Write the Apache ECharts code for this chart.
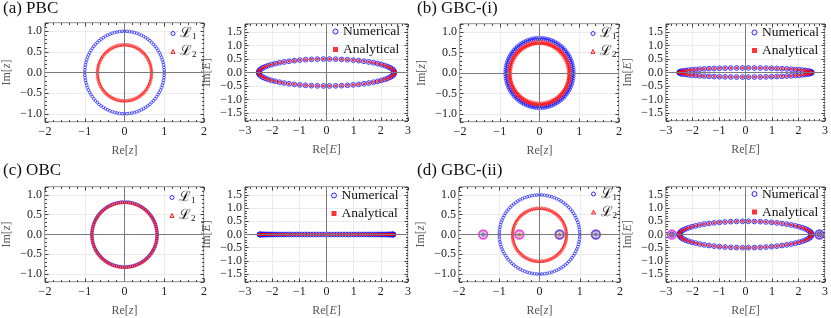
<!DOCTYPE html>
<html><head><meta charset="utf-8">
<script src="https://cdn.jsdelivr.net/npm/echarts@6/dist/echarts.min.js"></script>
<style>html,body{margin:0;padding:0;background:#fff}#c{width:831px;height:318px}</style>
</head><body><div id="c"></div>
<script>
// ---------------- values ----------------
const panelTitles = ['(a) PBC', '(b) GBC-(i)', '(c) OBC', '(d) GBC-(ii)'];
// tick labels
const zTicksX = [-2, -1, 0, 1, 2];
const zTicksY = [-1, -0.5, 0, 0.5, 1];
const eTicksX = [-3, -2, -1, 0, 1, 2, 3];
const eTicksY = [-1.5, -1, -0.5, 0, 0.5, 1, 1.5];
// z-plane loci: radii of the rings of L1 / L2 points per panel (a,b,c,d)
const L1Radii = [[1.0], [0.83, 0.865], [0.82], [1.0]];
const L2Radii = [[0.68], [0.735, 0.77], [0.82], [0.67]];
const zPointsPerRing = 100;
// E-plane spectra: semi-axes of the ellipse per panel (c is a real segment)
const EMajor = [2.5, 2.5, 2.47, 2.5];
const EMinor = [0.5, 0.17, 0.0, 0.5];
const EPointsPerLoop = 70;
// isolated points of panel (d)
const dL1Isolated = [[-1.4, 0], [1.4, 0]];
const dL2Isolated = [[-0.5, 0], [0.5, 0]];
const dEIsolated = [[-2.78, 0], [2.79, 0]];
const dMagentaRingsZ = [[-1.4, 0], [-0.5, 0]];
const dPurpleRingsZ = [[0.5, 0], [1.4, 0]];
const dMagentaRingsE = [[-2.78, 0]];
const dPurpleRingsE = [[2.79, 0]];

// ---------------- helpers ----------------
function ringPoints(radii, n) {
  const out = [];
  radii.forEach((r, ri) => {
    for (let j = 0; j < n; j++) {
      const t = 2 * Math.PI * (j + ri * 0.5) / n;
      out.push([r * Math.cos(t), r * Math.sin(t)]);
    }
  });
  return out;
}
function spectrumPoints(a, b, n) {
  const out = [];
  if (b === 0) {
    for (let m = 1; m <= n; m++) out.push([a * Math.cos(Math.PI * m / (n + 1)), 0]);
  } else {
    for (let j = 0; j < n; j++) {
      const t = 2 * Math.PI * j / n;
      out.push([a * Math.cos(t), b * Math.sin(t)]);
    }
  }
  return out;
}

// ---------------- layout / style ----------------
const FONT = 'Liberation Serif';
const layout = {
  grids: [[40,23,164,99],[245,24,163,97],[460,24,159,98],[666,24,162,97],
          [40,187,164,97],[245,187,163,97],[459,187,161,97],[666,187,162,97]],
  legends: [[170.5,26.5],[332.5,24.5],[590.5,26.5],[751.5,25.5],[169.5,190.5],[331,188.5],[591,187],[751.5,187]],
  titles: [[3,0],[417,0],[3,162],[417,162]]
};
const BLUE = '#0000ff', RED = '#ff0000', FRAME = '#444';
const minus = s => s.replace('-', '\u2212');

const grids = [], xAxes = [], yAxes = [], series = [], legends = [];

layout.grids.forEach((g, gi) => {
  const isE = gi % 2 === 1;
  grids.push({ left: g[0], top: g[1], width: g[2], height: g[3], show: true,
    borderColor: FRAME, borderWidth: 1, backgroundColor: 'transparent' });
  const tickStyle = { lineStyle: { color: FRAME, width: 1 } };
  const xr = isE ? 3 : 2, yr = isE ? 1.8 : 1.2;
  const xTicks = isE ? eTicksX : zTicksX, yTicks = isE ? eTicksY : zTicksY;
  const sym = isE ? 'E' : 'z';
  const nameStyle = { fontFamily: FONT, fontSize: 12, color: '#555',
      rich: { r: { fontFamily: FONT, fontSize: 12, color: '#555' },
              i: { fontFamily: FONT, fontSize: 12, color: '#555', fontStyle: 'italic' } } };
  const xCommon = { type: 'value', gridIndex: gi, min: -xr, max: xr, interval: 1,
    axisLine: { show: false, onZero: false },
    axisTick: Object.assign({ inside: true, length: 3.5 }, tickStyle),
    minorTick: Object.assign({ show: true, splitNumber: 5, length: 2 }, tickStyle) };
  xAxes.push(Object.assign({}, xCommon, { position: 'bottom',
    axisLabel: { fontFamily: FONT, fontSize: 12, color: '#1a1a1a', margin: 4,
      customValues: xTicks, formatter: v => minus(String(v)) },
    splitLine: { show: true, lineStyle: { color: '#ebebeb', width: 1 } },
    name: '{r|Re[}{i|' + sym + '}{r|]}', nameLocation: 'middle', nameGap: 23,
    nameTextStyle: nameStyle }));
  xAxes.push(Object.assign({}, xCommon, { position: 'top', axisLabel: { show: false }, splitLine: { show: false } }));
  const yCommon = { type: 'value', gridIndex: gi, min: -yr, max: yr, splitNumber: isE ? 7 : 5,
    axisLine: { show: false, onZero: false },
    axisTick: Object.assign({ inside: true, length: 3.5 }, tickStyle),
    minorTick: Object.assign({ show: true, splitNumber: 5, length: 2 }, tickStyle) };
  yAxes.push(Object.assign({}, yCommon, { position: 'left',
    axisLabel: { fontFamily: FONT, fontSize: 12, color: '#1a1a1a', margin: 3,
      customValues: yTicks, formatter: v => minus(v.toFixed(1)) },
    splitLine: { show: true, lineStyle: { color: '#ebebeb', width: 1 } },
    name: '{r|Im[}{i|' + sym + '}{r|]}', nameLocation: 'middle', nameGap: 32, nameRotate: 90,
    nameTextStyle: nameStyle }));
  yAxes.push(Object.assign({}, yCommon, { position: 'right', axisLabel: { show: false }, splitLine: { show: false } }));

  const xi = gi * 2, yi = gi * 2;
  // zero lines
  series.push({ type: 'scatter', xAxisIndex: xi, yAxisIndex: yi, data: [], z: 1, silent: true,
    markLine: { silent: true, symbol: ['none', 'none'], label: { show: false }, animation: false,
      lineStyle: { color: '#7a7a7a', width: 1, type: 'solid' }, emphasis: { disabled: true },
      data: [{ xAxis: 0 }, { yAxis: 0 }] } });

  const p = Math.floor(gi / 2);
  const isD = p === 3;
  if (isD) {
    const mag = isE ? dMagentaRingsE : dMagentaRingsZ;
    const pur = isE ? dPurpleRingsE : dPurpleRingsZ;
    series.push({ type: 'scatter', xAxisIndex: xi, yAxisIndex: yi, data: mag, symbol: 'circle', symbolSize: 8.5, z: 2, silent: true,
      itemStyle: { color: '#c9c9c9', borderColor: '#ee22dd', borderWidth: 1.8 } });
    series.push({ type: 'scatter', xAxisIndex: xi, yAxisIndex: yi, data: pur, symbol: 'circle', symbolSize: 8.5, z: 2, silent: true,
      itemStyle: { color: '#c9c9c9', borderColor: '#5522cc', borderWidth: 1.8 } });
  }
  if (!isE) {
    let d1 = ringPoints(L1Radii[p], zPointsPerRing);
    let d2 = ringPoints(L2Radii[p], zPointsPerRing);
    if (isD) { d1 = d1.concat(dL1Isolated); d2 = d2.concat(dL2Isolated); }
    series.push({ name: 'L1', type: 'scatter', xAxisIndex: xi, yAxisIndex: yi, data: d1, z: 3,
      symbol: 'circle', symbolSize: 2.8,
      itemStyle: { color: 'rgba(255,255,255,0)', borderColor: BLUE, borderWidth: 0.7 } });
    series.push({ name: 'L2', type: 'scatter', xAxisIndex: xi, yAxisIndex: yi, data: d2, z: 4,
      symbol: 'triangle', symbolSize: 3,
      itemStyle: { color: 'rgba(255,0,0,0.3)', borderColor: RED, borderWidth: 0.6 } });
    legends.push({ data: ['L1', 'L2'], itemWidth: 4, itemHeight: 4 });
  } else {
    let d = spectrumPoints(EMajor[p], EMinor[p], EPointsPerLoop);
    if (isD) d = d.concat(dEIsolated);
    series.push({ name: 'Numerical', type: 'scatter', xAxisIndex: xi, yAxisIndex: yi, data: d, z: 3,
      symbol: 'circle', symbolSize: 4.8,
      itemStyle: { color: 'rgba(200,200,255,0.35)', borderColor: BLUE, borderWidth: 0.9 } });
    series.push({ name: 'Analytical', type: 'scatter', xAxisIndex: xi, yAxisIndex: yi, data: d, z: 4,
      symbol: 'rect', symbolSize: 2.6,
      itemStyle: { color: RED } });
    legends.push({ data: ['Numerical', 'Analytical'], itemWidth: 5, itemHeight: 5 });
  }
  const lg = layout.legends[gi];
  Object.assign(legends[legends.length - 1], {
    left: lg[0], top: lg[1], orient: 'vertical',
    itemGap: isE ? 4 : 3, padding: 0, selectedMode: false,
    itemStyle: { borderWidth: 1 },
    formatter: n => n === 'L1' ? '{s|\u2112}{b|1}' : n === 'L2' ? '{s|\u2112}{b|2}' : n,
    textStyle: { fontFamily: FONT, fontSize: 13.5, color: '#111',
      rich: { s: { fontFamily: 'DejaVu Serif', fontSize: 14, color: '#111' },
              b: { fontFamily: FONT, fontSize: 9, color: '#111', padding: [7, 0, 0, 0] } } }
  });
});

const titles = panelTitles.map((t, i) => ({ text: t, left: layout.titles[i][0], top: layout.titles[i][1], padding: 0,
  textStyle: { fontFamily: FONT, fontSize: 17, fontWeight: 'normal', color: '#111' } }));

const chart = echarts.init(document.getElementById('c'), null, { renderer: 'canvas' });
chart.setOption({ animation: false, backgroundColor: '#fff', title: titles, grid: grids,
  xAxis: xAxes, yAxis: yAxes, legend: legends, series: series });
</script></body></html>
